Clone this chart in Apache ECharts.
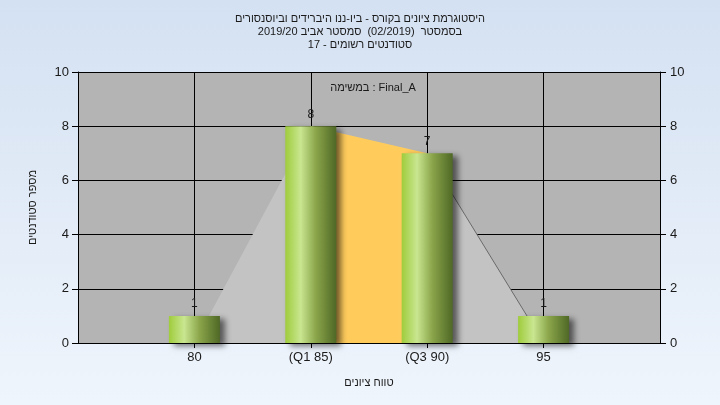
<!DOCTYPE html>
<html>
<head>
<meta charset="utf-8">
<script src="https://cdn.jsdelivr.net/npm/echarts@6/dist/echarts.min.js"></script>
<style>
html,body{margin:0;padding:0;}
#chart{width:720px;height:405px;}
</style>
</head>
<body>
<div id="chart" dir="rtl"></div>
<script>
// ---- data ----
const categories = ['', '80', '(Q1 85)', '(Q3 90)', '95', ''];
const barValues = [null, 1, 8, 7, 1, null];
const curveValues = [null, 0, 8, 7, 0, null];   // distribution outline
const q1Index = 2, q3Index = 3;
const yTicks = [0, 2, 4, 6, 8, 10];
const titleLines = [
  'היסטוגרמת ציונים בקורס - ביו-ננו היברידים וביוסנסורים',
  'בסמסטר  (02/2019)  סמסטר אביב 2019/20',
  'סטודנטים רשומים - 17'
];
const assignmentLabel = 'Final_A : במשימה';
const yName = 'מספר סטודנטים';
const xName = 'טווח ציונים';

function segment(from, to) {
  return curveValues.map((v, i) => (i >= from && i <= to && v !== null) ? v : '-');
}
const firstIdx = curveValues.findIndex(v => v !== null);
const lastIdx = curveValues.length - 1 - [...curveValues].reverse().findIndex(v => v !== null);

const font = 'Liberation Sans, Arial, sans-serif';
const inner = (i) => i > 0 && i < categories.length - 1;

const chart = echarts.init(document.getElementById('chart'), null, {renderer: 'canvas'});
chart.setOption({
  animation: false,
  backgroundColor: {
    type: 'linear', x: 0, y: 0, x2: 0, y2: 1,
    colorStops: [{offset: 0, color: '#d4e1f2'}, {offset: 1, color: '#eff5fc'}]
  },
  title: [{
    text: titleLines.join('\n'),
    left: 'center', top: 7,
    textStyle: {fontFamily: font, fontSize: 11, fontWeight: 'normal', color: '#1a1a1a', lineHeight: 13}
  }, {
    text: assignmentLabel,
    left: 368, top: 77, textAlign: 'center',
    textStyle: {fontFamily: font, fontSize: 11, fontWeight: 'normal', color: '#1a1a1a'}
  }],
  grid: {left: 78, right: 60, top: 72, bottom: 62, show: true, backgroundColor: '#b4b4b4', borderWidth: 0},
  xAxis: {
    type: 'category', data: categories, boundaryGap: false,
    name: xName, nameLocation: 'middle', nameGap: 34,
    nameTextStyle: {fontFamily: font, fontSize: 11, color: '#1a1a1a'},
    axisLine: {lineStyle: {color: '#000', width: 1}},
    axisTick: {interval: (i) => inner(i), length: 5, lineStyle: {color: '#000'}},
    axisLabel: {interval: (i) => inner(i), fontFamily: font, fontSize: 13, color: '#1a1a1a', margin: 8},
    splitLine: {show: true, interval: (i) => inner(i), lineStyle: {color: '#000', width: 1}}
  },
  yAxis: [{
    type: 'value', min: yTicks[0], max: yTicks[yTicks.length - 1], interval: 2, position: 'left',
    name: yName, nameLocation: 'middle', nameGap: 40, nameRotate: 90,
    nameTextStyle: {fontFamily: font, fontSize: 11, color: '#1a1a1a'},
    axisLine: {show: true, lineStyle: {color: '#000'}},
    axisTick: {show: true, length: 6, lineStyle: {color: '#000'}},
    axisLabel: {fontFamily: font, fontSize: 13, color: '#1a1a1a', margin: 9},
    splitLine: {show: true, lineStyle: {color: '#000', width: 1}}
  }, {
    type: 'value', min: yTicks[0], max: yTicks[yTicks.length - 1], interval: 2, position: 'right',
    axisLine: {show: true, lineStyle: {color: '#000'}},
    axisTick: {show: true, length: 6, lineStyle: {color: '#000'}},
    axisLabel: {fontFamily: font, fontSize: 13, color: '#1a1a1a', margin: 10},
    splitLine: {show: false}
  }],
  series: [{
    type: 'line', data: segment(firstIdx, q1Index), symbol: 'none', z: 1,
    lineStyle: {width: 0, opacity: 0},
    areaStyle: {color: '#c3c3c3', opacity: 1}
  }, {
    type: 'line', data: segment(q1Index, q3Index), symbol: 'none', z: 1,
    lineStyle: {width: 0, opacity: 0},
    areaStyle: {color: '#ffcc5c', opacity: 1}
  }, {
    type: 'line', data: segment(q3Index, lastIdx), symbol: 'none', z: 1,
    lineStyle: {width: 1, color: '#6a6a6a'},
    areaStyle: {color: '#c3c3c3', opacity: 1}
  }, {
    type: 'bar', data: barValues.map(v => v === null ? '-' : v), barWidth: 51, z: 3,
    itemStyle: {
      color: {
        type: 'linear', x: 0, y: 0, x2: 1, y2: 0,
        colorStops: [
          {offset: 0, color: '#9fcc3c'},
          {offset: 0.3, color: '#c9e690'},
          {offset: 0.6, color: '#8aa54a'},
          {offset: 1, color: '#4f6826'}
        ]
      },
      shadowColor: 'rgba(0,0,0,0.55)', shadowBlur: 6, shadowOffsetX: 5, shadowOffsetY: 3
    },
    label: {show: true, position: 'top', distance: 6, fontFamily: font, fontSize: 12, color: '#1a1a1a'}
  }]
});
</script>
</body>
</html>
